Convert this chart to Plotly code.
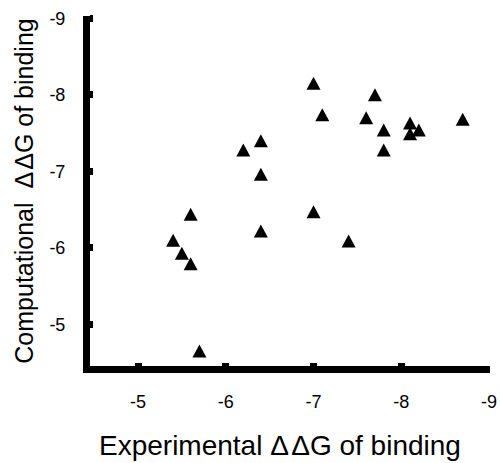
import plotly.graph_objects as go

# Experimental vs computed binding free-energy changes (kcal/mol)
experimental = [-7.0, -7.1, -7.7, -7.6, -7.8, -7.8, -8.1, -8.1, -8.2, -8.7,
                -6.2, -6.4, -6.4, -6.4, -7.0, -7.4,
                -5.6, -5.4, -5.5, -5.6, -5.7]
computational = [-8.15, -7.74, -8.00, -7.70, -7.54, -7.28, -7.63, -7.49, -7.54, -7.68,
                 -7.28, -7.40, -6.96, -6.22, -6.47, -6.09,
                 -6.44, -6.10, -5.93, -5.79, -4.65]

x_ticks = [-5, -6, -7, -8, -9]
y_ticks = [-5, -6, -7, -8, -9]

FONT = "Liberation Sans, Arial, sans-serif"

fig = go.Figure()

# Hover targets at each measurement
fig.add_trace(go.Scatter(
    x=experimental, y=computational, mode="markers",
    marker=dict(size=14, color="black", opacity=0),
    hovertemplate="Exp %{x}<br>Comp %{y}<extra></extra>",
    showlegend=False,
))

# Solid up-triangles anchored at each data point (fixed pixel size)
tri_path = "M-7,-6.5 L7,-6.5 L0,6.5 Z"
shapes = [
    dict(type="path", xref="x", yref="y",
         xsizemode="pixel", ysizemode="pixel",
         xanchor=xv, yanchor=yv, path=tri_path,
         fillcolor="black", line=dict(width=0), layer="above")
    for xv, yv in zip(experimental, computational)
]

axis_common = dict(
    showline=True, linewidth=7, linecolor="black",
    ticks="inside", ticklen=3, tickwidth=7, tickcolor="black",
    showgrid=False, zeroline=False, automargin=False,
    tickfont=dict(family=FONT, size=18, color="black"),
)

fig.update_layout(
    width=500, height=463,
    margin=dict(l=90, r=10, t=16, b=97, autoexpand=False),
    paper_bgcolor="white", plot_bgcolor="white",
    showlegend=False,
    shapes=shapes,
    xaxis=dict(
        range=[-4.453, -9.011], tickvals=x_ticks, ticktext=[str(v) for v in x_ticks],
        ticklabelstandoff=13,
        **axis_common,
    ),
    yaxis=dict(
        range=[-4.455, -9.03], tickvals=y_ticks, ticktext=[str(v) for v in y_ticks],
        ticklabelstandoff=14,
        title=dict(text="Computational  Δ\u200aΔG of binding", standoff=11,
                   font=dict(family=FONT, size=25, color="black")),
        **axis_common,
    ),
    # x-axis caption, set slightly left of the plot centre
    annotations=[dict(
        text="Experimental Δ\u200aΔG of binding",
        xref="paper", yref="paper", x=0.475, y=0,
        xanchor="center", yanchor="top", yshift=-62,
        showarrow=False,
        font=dict(family=FONT, size=28, color="black"),
    )],
)

fig.write_html("out.html")
